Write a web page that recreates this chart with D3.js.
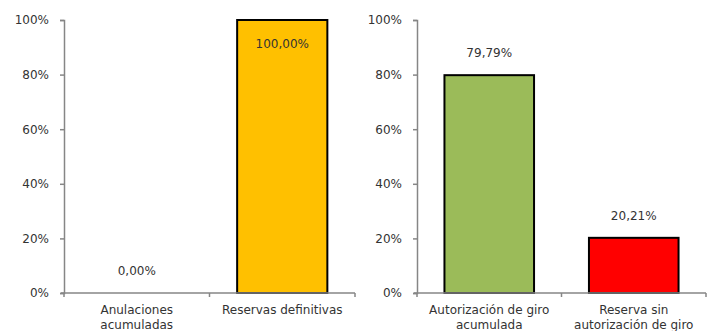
<!DOCTYPE html>
<html><head><meta charset="utf-8">
<script src="https://cdn.jsdelivr.net/npm/d3@7"></script>
<style>body{margin:0;background:#fff}svg{display:block}text{font-family:"DejaVu Sans",sans-serif;fill:#333}</style>
</head><body><svg id="c" width="718" height="331"></svg>
<script>
const leftCategories = [["Anulaciones","acumuladas"],["Reservas definitivas"]];
const leftValues = [0, 100];
const leftLabels = ["0,00%","100,00%"];
const rightCategories = [["Autorización de giro","acumulada"],["Reserva sin","autorización de giro"]];
const rightValues = [79.79, 20.21];
const rightLabels = ["79,79%","20,21%"];
const yTicks = [0,20,40,60,80,100];
const leftColors = ["#FFC000","#FFC000"];
const rightColors = ["#9BBB59","#FF0000"];

const FONT = '"DejaVu Sans",sans-serif';
const svg = d3.select("#c");
function panel(x0, x1, cats, vals, labels, colors){
  const y = d3.scaleLinear().domain([0,100]).range([293,20]);
  const x = d3.scaleBand().domain(cats.map((d,i)=>i)).range([x0,x1]).paddingInner(0.38).paddingOuter(0.19);
  const g = svg.append("g");
  const ya = g.append("g").attr("transform",`translate(${x0},0)`)
    .call(d3.axisLeft(y).tickValues(yTicks).tickFormat(d=>d+"%").tickSize(4).tickPadding(11));
  ya.select(".domain").attr("stroke","#868686").attr("stroke-width",1.5);
  ya.selectAll(".tick line").attr("stroke","#868686").attr("stroke-width",1.5);
  ya.selectAll(".tick text").attr("font-size",12).attr("fill","#333").style("font-family",FONT);
  g.selectAll("rect").data(vals).join("rect")
    .attr("x",(d,i)=>x(i)).attr("width",x.bandwidth())
    .attr("y",d=>y(d)).attr("height",d=>y(0)-y(d))
    .attr("fill",(d,i)=>colors[i]).attr("stroke",d=>d>0?"#000":"none").attr("stroke-width",2);
  g.append("line").attr("x1",x0-3).attr("x2",x1).attr("y1",y(0)).attr("y2",y(0)).attr("stroke","#868686").attr("stroke-width",1.5);
  [x0,(x0+x1)/2,x1].forEach(t=>g.append("line").attr("x1",t).attr("x2",t).attr("y1",y(0)).attr("y2",y(0)+4).attr("stroke","#868686").attr("stroke-width",1.5));
  g.selectAll("text.lbl").data(vals).join("text").attr("class","lbl")
    .attr("x",(d,i)=>x(i)+x.bandwidth()/2)
    .attr("y",d=> d>=95 ? y(d)+28 : y(d)-18)
    .attr("text-anchor","middle").attr("font-size",12).text((d,i)=>labels[i]);
  cats.forEach((lines,i)=>{
    lines.forEach((ln,j)=>{
      g.append("text").attr("x",x(i)+x.bandwidth()/2).attr("y",314+j*14.5)
        .attr("text-anchor","middle").attr("font-size",12).text(ln);
    });
  });
}
panel(64,355,leftCategories,leftValues,leftLabels,leftColors);
panel(417,706,rightCategories,rightValues,rightLabels,rightColors);
</script></body></html>
